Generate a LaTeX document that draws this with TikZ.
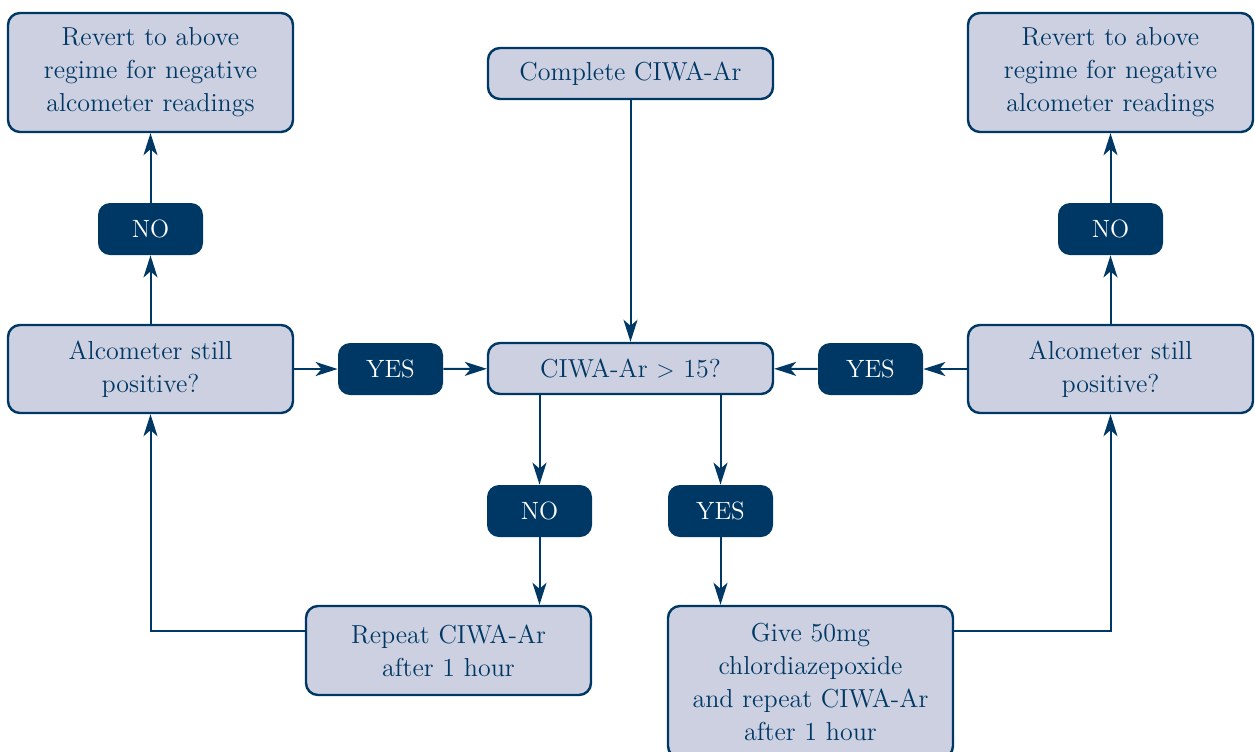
\documentclass[tikz,border=0pt]{standalone}
\usetikzlibrary{arrows.meta}
\definecolor{navy}{RGB}{0,56,101}
\definecolor{lilac}{RGB}{205,208,224}
\tikzset{
  box/.style={draw=navy, fill=lilac, line width=1.2pt, rounded corners=6pt,
    text=navy, align=center, text width=138pt, minimum width=142.5pt,
    inner sep=0pt, font=\fontsize{13}{16.5}\selectfont},
  tag/.style={fill=navy, rounded corners=6pt, text=white, minimum width=52.5pt,
    minimum height=26pt, inner sep=0pt, font=\fontsize{12.5}{14}\selectfont},
  arr/.style={navy, line width=1pt, -{Stealth[length=11pt,width=7pt,inset=3pt]}},
}
\begin{document}
\begin{tikzpicture}[x=0.5pt,y=-0.5pt]
\useasboundingbox (0,0) rectangle (1255,751);
% top row
\node[box,minimum height=59.5pt] (revL) at (150.5,72.5) {Revert to above\\regime for negative\\alcometer readings};
\node[box,minimum height=25.5pt] (start) at (630.5,73.5) {Complete CIWA-Ar};
\node[box,minimum height=59.5pt] (revR) at (1110.5,72.5) {Revert to above\\regime for negative\\alcometer readings};
\node[tag] (noL) at (150.5,229) {NO};
\node[tag] (noR) at (1110.5,229) {NO};
% middle row
\node[box,minimum height=44pt] (alcL) at (150.5,369) {Alcometer still\\positive?};
\node[tag] (yesL) at (390.5,369) {YES};
\node[box,minimum height=25.5pt] (test) at (630.5,368.5) {CIWA-Ar $>$ 15?};
\node[tag] (yesR) at (870.5,369) {YES};
\node[box,minimum height=44pt] (alcR) at (1110.5,369) {Alcometer still\\positive?};
% bottom
\node[tag] (noB) at (539.5,511) {NO};
\node[tag] (yesB) at (720.5,511) {YES};
\node[box,minimum height=44.5pt] (rep) at (448.5,650.5) {Repeat CIWA-Ar\\after 1 hour};
\node[box,minimum height=76pt] (give) at (810.5,682) {Give 50mg\\chlordiazepoxide\\and repeat CIWA-Ar\\after 1 hour};
% connectors
\draw[arr] (start) -- (test);
\draw[arr] (noB |- test.south) -- (noB);
\draw[arr] (yesB |- test.south) -- (yesB);
\draw[arr] (noB) -- (noB |- rep.north);
\draw[arr] (yesB) -- (yesB |- give.north);
\draw[arr] ([yshift=-13pt]rep.north west) -| (alcL);
\draw[arr] ([yshift=-13pt]give.north east) -| (alcR);
\draw[arr] (alcL) -- (noL);
\draw[arr] (noL) -- (revL);
\draw[arr] (alcR) -- (noR);
\draw[arr] (noR) -- (revR);
\draw[arr] (alcL) -- (yesL);
\draw[arr] (yesL) -- (test);
\draw[arr] (alcR) -- (yesR);
\draw[arr] (yesR) -- (test);
\end{tikzpicture}
\end{document}
